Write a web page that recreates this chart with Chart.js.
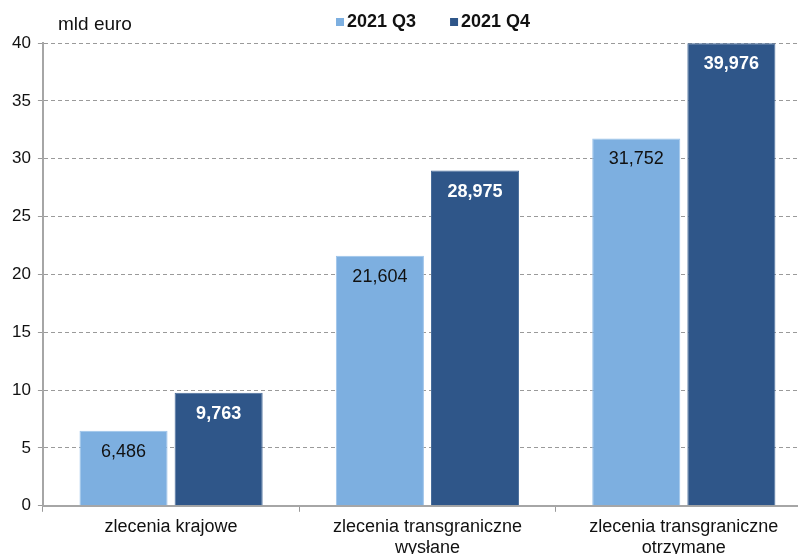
<!DOCTYPE html>
<html>
<head>
<meta charset="utf-8">
<script src="https://cdn.jsdelivr.net/npm/chart.js@4"></script>
<style>
  html, body { margin: 0; padding: 0; background: #fff; overflow: hidden; }
  #wrap { width: 812px; height: 566px; }
</style>
</head>
<body>
<div id="wrap"><canvas id="chart" width="812" height="566"></canvas></div>
<script>
var categories = [
  'zlecenia krajowe',
  ['zlecenia transgraniczne', 'wysłane'],
  ['zlecenia transgraniczne', 'otrzymane']
];
var q3Values = [6.486, 21.604, 31.752];
var q4Values = [9.763, 28.975, 39.976];
var seriesNames = ['2021 Q3', '2021 Q4'];
var yTicks = [0, 5, 10, 15, 20, 25, 30, 35, 40];
var unitLabel = 'mld euro';

var FONT = '"Liberation Sans", Arial, sans-serif';

function formatValue(v) {
  return v.toFixed(3).replace('.', ',');
}

// value labels inside the top of each bar
var valueLabels = {
  id: 'valueLabels',
  afterDatasetsDraw: function(chart) {
    var ctx = chart.ctx;
    ctx.save();
    ctx.textAlign = 'center';
    ctx.textBaseline = 'middle';
    chart.data.datasets.forEach(function(ds, i) {
      var meta = chart.getDatasetMeta(i);
      meta.data.forEach(function(bar, j) {
        if (i === 0) {
          ctx.font = '18px ' + FONT;
          ctx.fillStyle = '#111';
        } else {
          ctx.font = 'bold 18px ' + FONT;
          ctx.fillStyle = '#fff';
        }
        ctx.fillText(formatValue(ds.data[j]), bar.x, bar.y + 21);
      });
    });
    ctx.restore();
  }
};

// unit text and legend at the top
var topTexts = {
  id: 'topTexts',
  afterDraw: function(chart) {
    var ctx = chart.ctx;
    ctx.save();
    ctx.textBaseline = 'middle';
    ctx.textAlign = 'left';
    ctx.fillStyle = '#111';
    ctx.font = '19px ' + FONT;
    ctx.fillText(unitLabel, 58, 25);

    var x = 336;
    ctx.font = 'bold 18px ' + FONT;
    chart.data.datasets.forEach(function(ds) {
      ctx.fillStyle = ds.backgroundColor;
      ctx.fillRect(x, 18, 8, 8);
      ctx.fillStyle = '#111';
      ctx.fillText(ds.label, x + 11, 22);
      x += 11 + ctx.measureText(ds.label).width + 34;
    });
    ctx.restore();
  }
};

new Chart(document.getElementById('chart'), {
  type: 'bar',
  data: {
    labels: categories,
    datasets: [{
      label: seriesNames[0],
      data: q3Values,
      backgroundColor: '#7dafe0',
      borderColor: '#9cc3ea',
      borderWidth: 1,
      categoryPercentage: 0.742,
      barPercentage: 0.926
    }, {
      label: seriesNames[1],
      data: q4Values,
      backgroundColor: '#2f5689',
      borderColor: '#4a6d9b',
      borderWidth: 1,
      categoryPercentage: 0.742,
      barPercentage: 0.926
    }]
  },
  options: {
    responsive: false,
    animation: false,
    layout: { padding: { top: 43, left: 5, right: 0, bottom: 3 } },
    plugins: {
      legend: { display: false },
      tooltip: { enabled: false }
    },
    scales: {
      x: {
        grid: {
          offset: true,
          drawOnChartArea: false,
          color: '#999',
          tickLength: 6
        },
        border: { color: '#a6a6a6', width: 2 },
        ticks: {
          color: '#111',
          font: { family: FONT, size: 18 },
          padding: 4,
          maxRotation: 0
        }
      },
      y: {
        min: 0,
        max: 40,
        afterBuildTicks: function(axis) {
          axis.ticks = yTicks.map(function(v) { return { value: v }; });
        },
        grid: {
          color: '#9a9a9a',
          tickLength: 5
        },
        border: { color: '#a6a6a6', width: 2, dash: [4, 3] },
        ticks: {
          color: '#111',
          font: { family: FONT, size: 17 },
          padding: 7
        }
      }
    }
  },
  plugins: [valueLabels, topTexts]
});
</script>
</body>
</html>
